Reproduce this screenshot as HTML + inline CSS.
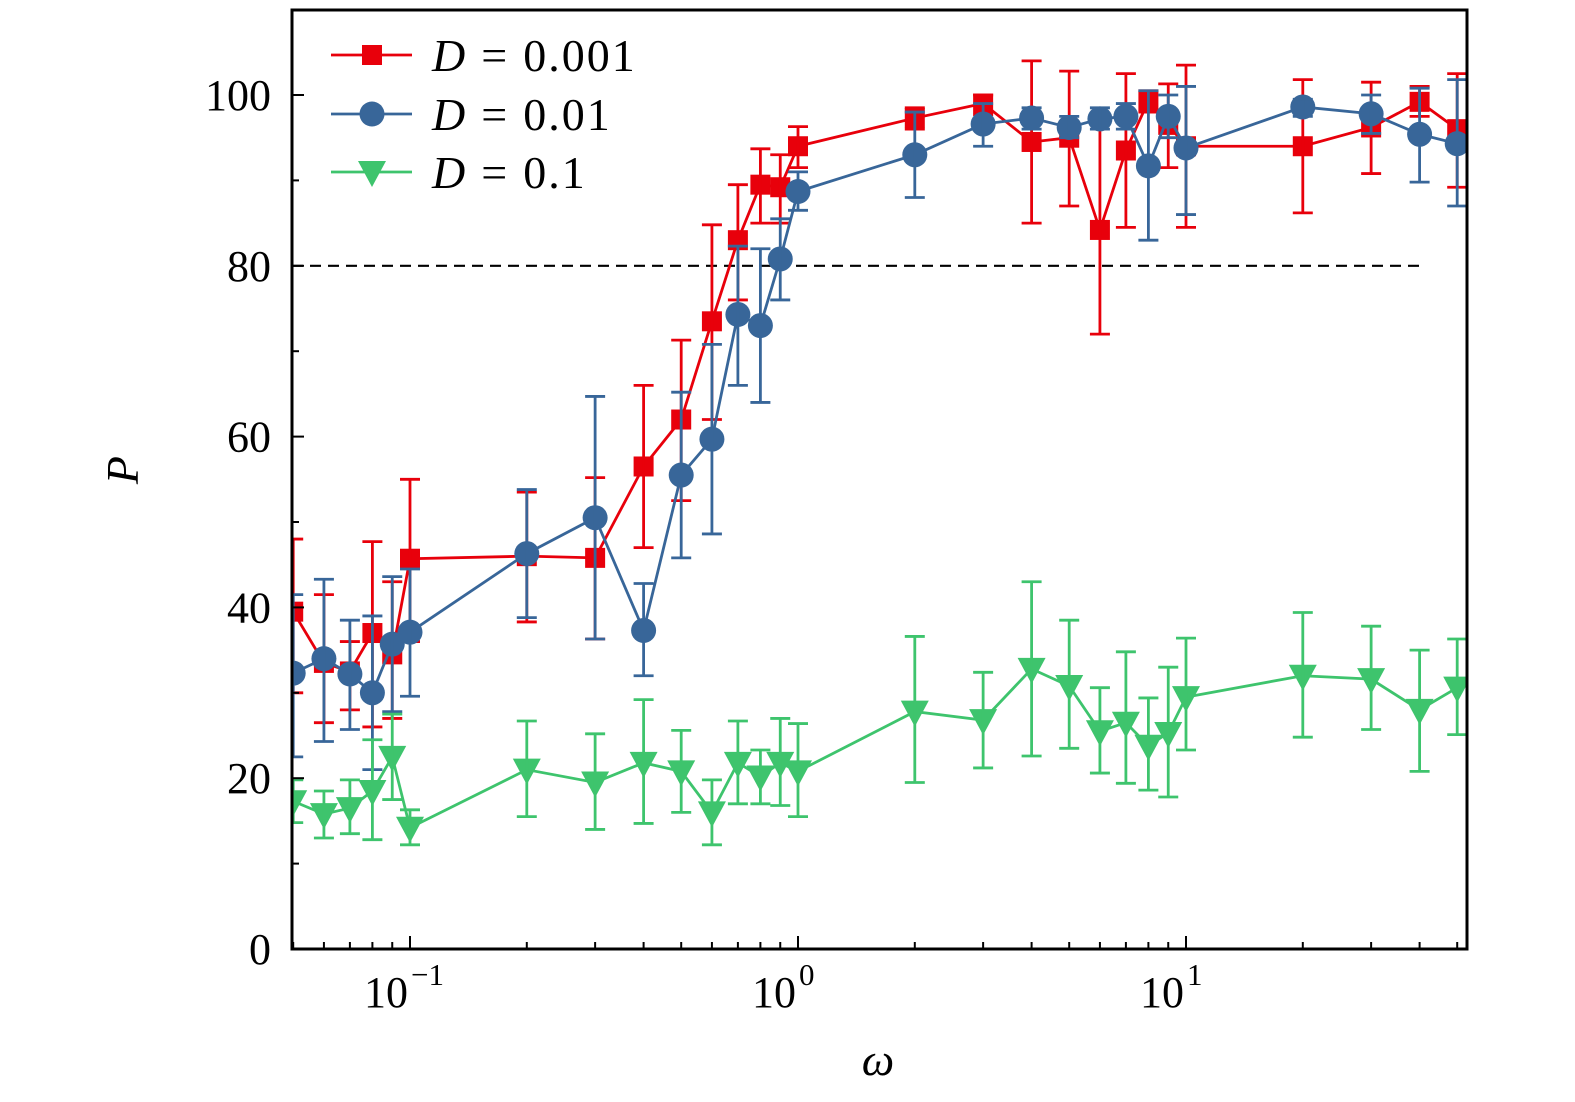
<!DOCTYPE html>
<html><head><meta charset="utf-8"><style>
body{margin:0;background:#fff}
svg{display:block}
text{font-family:"Liberation Serif","DejaVu Serif",serif;fill:#000}
</style></head><body>
<svg id="chart" width="1575" height="1102" xmlns="http://www.w3.org/2000/svg"></svg>
<script>
const xs=[0.05,0.06,0.07,0.08,0.09,0.1,0.2,0.3,0.4,0.5,0.6,0.7,0.8,0.9,1,2,3,4,5,6,7,8,9,10,20,30,40,50];
const redY=[39.5,33.5,32.5,37,34.5,45.7,46,45.8,56.5,62,73.5,83,89.5,89.2,94,97.3,99,94.5,95,84.2,93.5,99.3,96.5,94,94,96.2,99.2,96];
const redHi=[48,41.5,36,47.7,43,55,53.5,55.2,66,71.3,84.8,89.5,93.7,93,96.3,98.5,100,104,102.8,96.5,102.5,100.5,101.3,103.5,101.8,101.5,101,102.5];
const redLo=[30,26.5,28,26,27,36,38.3,36.3,47,52.5,62,76,85,85,91.5,96,97.7,85,87,72,84.5,98,91.5,84.5,86.2,90.8,97.5,89.2];
const blueY=[32.3,34,32.2,30,35.7,37.1,46.3,50.5,37.3,55.5,59.7,74.3,73,80.8,88.7,93,96.6,97.3,96.2,97.2,97.5,91.7,97.5,93.8,98.6,97.8,95.4,94.3];
const blueHi=[41.5,43.3,38.5,39,43.6,44.5,53.8,64.7,42.8,65.2,70.8,82.3,82,85.5,91,98,99,98.5,97.5,98.5,99,100.5,100,101,99.5,100,100.8,101.8];
const blueLo=[22.5,24.3,25.7,21,27.8,29.6,38.8,36.3,32,45.8,48.6,66,64,76,86.5,88,94,96,95,96,96,83,95,86,97.5,95.5,89.8,87];
const greenY=[17.3,15.8,16.5,18.5,22.5,14.2,21,19.5,21.8,20.8,16,21.8,20.2,21.8,20.8,27.8,26.8,32.8,30.8,25.5,26.5,23.8,25.3,29.5,32,31.6,28,30.6];
const greenHi=[19.8,18.5,19.8,24.5,27.5,16.3,26.7,25.2,29.2,25.6,19.8,26.7,23.3,27,26.4,36.6,32.4,43,38.5,30.6,34.8,29.4,33,36.4,39.4,37.8,35,36.3];
const greenLo=[14.8,13,13.5,12.8,17.5,12.2,15.5,14,14.7,16,12.2,17,17,16.8,15.5,19.5,21.2,22.6,23.5,20.6,19.4,18.6,17.8,23.3,24.8,25.7,20.8,25.1];
const yTicks=[0,20,40,60,80,100];
const xDecades=[-1,0,1];
const refLine=80;

const NS="http://www.w3.org/2000/svg";
const svg=document.getElementById('chart');
const L=292,R=1467,T=10,B=949;
const X=v=>798+388*Math.log10(v);
const Y=v=>949-8.54*v;
function el(tag,attrs,parent){const e=document.createElementNS(NS,tag);for(const k in attrs)e.setAttribute(k,attrs[k]);(parent||svg).appendChild(e);return e;}

const defs=el('defs',{});
const cp=el('clipPath',{id:'pc'},defs);
el('rect',{x:L,y:T,width:R-L,height:B-T},cp);

const rl=el('line',{x1:L,x2:X(40),y1:Y(refLine),y2:Y(refLine),stroke:'#000','stroke-width':2.2,'stroke-dasharray':'11,7'});



const series=[
 {name:'d-0.001',c:'#e8000b',y:redY,hi:redHi,lo:redLo,m:'sq'},
 {name:'d-0.01',c:'#386699',y:blueY,hi:blueHi,lo:blueLo,m:'ci'},
 {name:'d-0.1',c:'#3ec46d',y:greenY,hi:greenHi,lo:greenLo,m:'tri'}
];
function marker(g,m,cx,cy,c){
 if(m==='sq')return el('rect',{x:cx-10,y:cy-10,width:20,height:20,fill:c},g);
 if(m==='ci')return el('circle',{cx:cx,cy:cy,r:12.5,fill:c},g);
 return el('polygon',{points:`${cx-14},${cy-11} ${cx+14},${cy-11} ${cx},${cy+15}`,fill:c},g);
}
series.forEach(s=>{
 const g=el('g',{'clip-path':'url(#pc)'});
 
 
 el('polyline',{points:xs.map((x,i)=>X(x)+','+Y(s.y[i])).join(' '),fill:'none',stroke:s.c,'stroke-width':2.8},g);
 xs.forEach((x,i)=>{
  const cx=X(x);
  const mk=marker(g,s.m,cx,Y(s.y[i]),s.c);
  
  
  const eg=el('g',{stroke:s.c,'stroke-width':2.8},g);
  
  
  el('line',{x1:cx,x2:cx,y1:Y(s.hi[i]),y2:Y(s.lo[i])},eg);
  el('line',{x1:cx-10,x2:cx+10,y1:Y(s.hi[i]),y2:Y(s.hi[i])},eg);
  el('line',{x1:cx-10,x2:cx+10,y1:Y(s.lo[i]),y2:Y(s.lo[i])},eg);
 });
});

const fr=el('rect',{x:L,y:T,width:R-L,height:B-T,fill:'none',stroke:'#000','stroke-width':3});



yTicks.forEach(v=>{
 el('line',{x1:L,x2:L+12,y1:Y(v),y2:Y(v),stroke:'#000','stroke-width':2});
 const t=el('text',{x:271,y:Y(v)+15,'text-anchor':'end','font-size':44});
 t.textContent=v;
 
 
});
for(let v=10;v<=100;v+=20)el('line',{x1:L,x2:L+7,y1:Y(v),y2:Y(v),stroke:'#000','stroke-width':2});
xDecades.forEach(d=>{
 const x=X(Math.pow(10,d));
 el('line',{x1:x,x2:x,y1:B,y2:B-13,stroke:'#000','stroke-width':2});
 const t=el('text',{x:x-2,y:1007,'text-anchor':'end','font-size':44});
 t.textContent='10';
 
 
 const sup=el('text',{x:x+1,y:985,'font-size':31});
 sup.textContent=d<0?'\u2212'+(-d):String(d);
});
for(let d=-2;d<=1;d++)for(let k=2;k<=9;k++){const v=k*Math.pow(10,d);const x=X(v);if(x>L&&x<R)el('line',{x1:x,x2:x,y1:B,y2:B-7,stroke:'#000','stroke-width':2});}

const yt=el('text',{x:138,y:470,'font-size':46,'font-style':'italic','text-anchor':'middle',transform:'rotate(-90 138 470)'});
yt.textContent='P';
const xt=el('text',{x:878,y:1075,'font-size':46,'font-style':'italic','text-anchor':'middle'});
xt.textContent='ω';

const labels=['0.001','0.01','0.1'];
[55,114,172].forEach((ly,i)=>{
 const s=series[i];
 const g=el('g',{});
 
 
 el('line',{x1:331,x2:412,y1:ly,y2:ly,stroke:s.c,'stroke-width':2.8},g);
 marker(g,s.m,372,ly,s.c);
 const t=el('text',{x:432,y:ly+16,'font-size':46},g);
 t.innerHTML='<tspan font-style="italic">D</tspan><tspan dx="16">=</tspan><tspan dx="16" letter-spacing="2">'+labels[i]+'</tspan>';
});
</script>
</body></html>
